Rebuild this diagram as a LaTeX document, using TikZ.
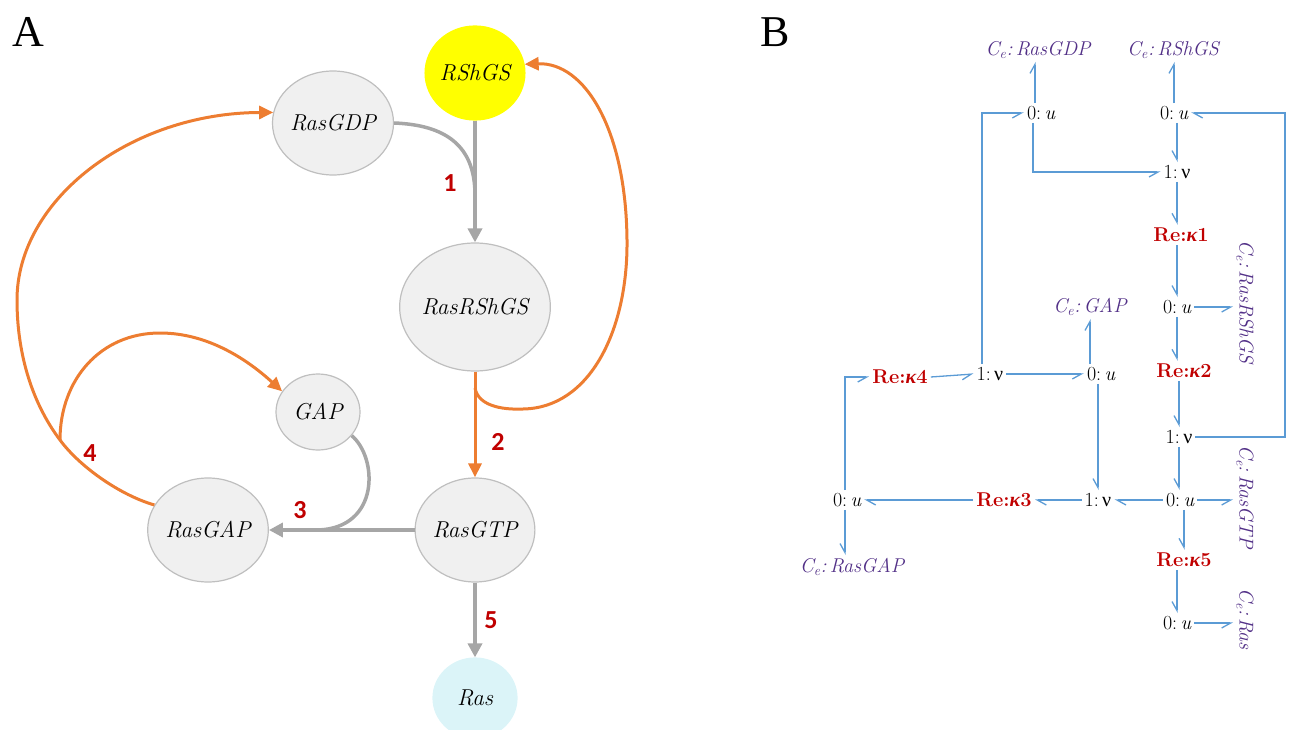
\documentclass[tikz,border=0pt]{standalone}
\usepackage{fontspec}
\usetikzlibrary{arrows.meta,shapes.geometric}
\newfontfamily\numfont{Carlito}
\newfontfamily\panelfont{Liberation Serif}
\newfontfamily\grk{Liberation Serif}
\newcommand{\ce}[1]{{\itshape C\textsubscript{e}:\,#1}}
\newcommand{\zu}{0:\,{\itshape u}}
\newcommand{\onev}{1:\,{\grk ν}}
\newcommand{\rek}[1]{{\bfseries Re:}{\grk\bfseries\itshape κ}{\bfseries #1}}
\definecolor{aorange}{HTML}{ED7D31}
\definecolor{agrey}{HTML}{A6A6A6}
\definecolor{nodefill}{HTML}{F0F0F0}
\definecolor{nodeedge}{HTML}{BFBFBF}
\definecolor{ayellow}{HTML}{FFFF00}
\definecolor{acyan}{HTML}{DBF4F8}
\definecolor{cred}{HTML}{C00000}
\definecolor{cpurple}{HTML}{523087}
\definecolor{bblue}{HTML}{5B9BD5}
\begin{document}
\begin{tikzpicture}[x=1pt,y=-1pt,
  species/.style={ellipse, draw=nodeedge, fill=nodefill, line width=1.2pt,
    inner sep=0pt, font=\itshape\fontsize{23}{27}\selectfont},
  garrow/.style={draw=agrey, line width=3.5pt},
  gtip/.style={-{Triangle[length=14pt,width=14pt]}},
  oarrow/.style={draw=aorange, line width=3pt},
  otip/.style={-{Triangle[length=14pt,width=13pt]}},
  rlabel/.style={text=cred, font=\numfont\bfseries\fontsize{26}{30}\selectfont},
  panel/.style={font=\panelfont\fontsize{44}{48}\selectfont},
  bg/.style={inner sep=3pt, font=\fontsize{20}{23}\selectfont},
  cen/.style={bg, text=cpurple},
  rexn/.style={bg, text=cred},
  bond/.style={draw=bblue, line width=1.3pt},
  hr/.style={bond, -{Straight Barb[harpoon,swap,length=9pt,width=10pt]}},
  hl/.style={bond, -{Straight Barb[harpoon,length=9pt,width=10pt]}}
]
\useasboundingbox (0,0) rectangle (1290,730);
\clip (0,0) rectangle (1290,730);

% ---------------- panel A: reaction network ----------------
\node[panel] (labA) at (28,32) {A};

\node[species, fill=ayellow, draw=ayellow, minimum width=98pt, minimum height=94pt] (rsh) at (475,73) {RShGS};
\node[species, minimum width=108pt, minimum height=104pt] (rgdp) at (333,123) {RasGDP};
\node[species, minimum width=131pt, minimum height=128pt] (rrs) at (475,307) {RasRShGS};
\node[species, minimum width=84pt, minimum height=76pt] (gap) at (318,412) {GAP};
\node[species, minimum width=110pt, minimum height=104pt] (rgap) at (208,530) {RasGAP};
\node[species, minimum width=110pt, minimum height=104pt] (rgtp) at (475,530) {RasGTP};
\node[species, fill=acyan, draw=acyan, minimum width=84pt, minimum height=80pt] (ras) at (475,698) {Ras};

\coordinate (j1) at (475,195);
\coordinate (j2) at (475,388);
\coordinate (j3) at (318,530);
\coordinate (j4) at (60,440);

% reaction 1
\draw[garrow, gtip] (rsh.south) -- (rrs.north);
\draw[garrow] (rgdp.east) .. controls (445,125) and (475,145) .. (j1);
% reaction 2
\draw[oarrow, otip] (rrs.south) -- (rgtp.north);
\draw[oarrow, otip] (j2) .. controls (478,405) and (500,410) .. (523,409)
  .. controls (590,408) and (628,330) .. (627,240)
  .. controls (626,130) and (585,62) .. (rsh.10);
% reaction 3
\draw[garrow, gtip] (rgtp.west) -- (rgap.east);
\draw[garrow] (gap.-35) .. controls (378,458) and (380,528) .. (j3);
% reaction 4
\draw[oarrow, otip] (rgap.155) .. controls (120,495) and (80,467) .. (j4)
  .. controls (30,400) and (17,350) .. (17,300)
  .. controls (17,200) and (130,113) .. (rgdp.170);
\draw[oarrow, otip] (j4) .. controls (60,380) and (100,333) .. (160,333)
  .. controls (210,333) and (250,362) .. (gap.150);
% reaction 5
\draw[garrow, gtip] (rgtp.south) -- (ras.north);

\node[rlabel] (n1) at (450,183) {1};
\node[rlabel] (n2) at (498,442) {2};
\node[rlabel] (n3) at (300,510) {3};
\node[rlabel] (n4) at (90,453) {4};
\node[rlabel] (n5) at (491,620) {5};

% ---------------- panel B: bond graph ----------------
\node[panel] (labB) at (775,32) {B};

\node[cen] (ceGDP) at (1038,50) {\ce{RasGDP}};
\node[cen] (ceRSh) at (1173,50) {\ce{RShGS}};
\node[bg] (u1) at (1041,113) {\zu};
\node[bg] (u2) at (1174,113) {\zu};
\node[bg] (v1) at (1177,172) {\onev};
\node[rexn] (re1) at (1181,235) {\rek{1}};
\node[bg] (u3) at (1177,307) {\zu};
\node[cen, rotate=-90] (ceRRS) at (1245,302) {\ce{RasRShGS}};
\node[cen] (ceGAP) at (1090,307) {\ce{GAP}};
\node[rexn] (re4) at (900,377) {\rek{4}};
\node[bg] (v2) at (990,374) {\onev};
\node[bg] (u4) at (1101,374) {\zu};
\node[rexn] (re2) at (1184,371) {\rek{2}};
\node[bg] (v3) at (1179,437) {\onev};
\node[bg] (u5) at (1180,500) {\zu};
\node[cen, rotate=-90] (ceGTP) at (1245,497) {\ce{RasGTP}};
\node[bg] (v4) at (1098,500) {\onev};
\node[rexn] (re3) at (1004,500) {\rek{3}};
\node[bg] (u6) at (847,500) {\zu};
\node[cen] (ceGAP2) at (852,567) {\ce{RasGAP}};
\node[rexn] (re5) at (1184,560) {\rek{5}};
\node[bg] (u7) at (1177,623) {\zu};
\node[cen, rotate=-90] (ceRas) at (1245,619) {\ce{Ras}};

\coordinate (rcorner) at (1285,113);

\draw[hl] ([xshift=-6pt]u1.north) -- ([xshift=-6pt]u1.north |- ceGDP.south);
\draw[hl] (u2.north) -- (u2.north |- ceRSh.south);
\draw[hr] ([xshift=-8pt]u1.south) |- (v1.west);
\draw[hr] (u2.south -| v1.north) -- (v1.north);
\draw[hr] (v1.south) -- (v1.south |- re1.north);
\draw[hr] (re1.south -| u3.north) -- (u3.north);
\draw[hr] (u3.east) -- (u3.east -| ceRRS.south);
\draw[hr] (u3.south) -- (u3.south |- re2.north);
\draw[hr] (re2.south -| v3.north) -- (v3.north);
\draw[hl] (v3.east) -| (rcorner) -- (u2.east);
\draw[hr] (v3.south) -- (v3.south |- u5.north);
\draw[hr] (u5.east) -- (u5.east -| ceGTP.south);
\draw[hr] (u5.south -| re5.north) -- (re5.north);
\draw[hr] (re5.south -| u7.north) -- (u7.north);
\draw[hr] (u7.east) -- (u7.east -| ceRas.south);
\draw[hl] (u5.west) -- (v4.east);
\draw[hl] (u4.north -| ceGAP.south) -- (ceGAP.south);
\draw[hr] (u4.south -| v4.north) -- (v4.north);
\draw[hl] (v4.west) -- (re3.east);
\draw[hl] (re3.west) -- (u6.east);
\draw[hr] ([xshift=-2pt]u6.south) -- ([xshift=-2pt]u6.south |- ceGAP2.north);
\draw[hr] ([xshift=-2pt]u6.north) |- (re4.west);
\draw[hr] (re4.east) -- (v2.west);
\draw[hr] (v2.east) -- (u4.west);
\draw[hr] ([xshift=-8pt]v2.north) |- (u1.west);
\end{tikzpicture}
\end{document}
